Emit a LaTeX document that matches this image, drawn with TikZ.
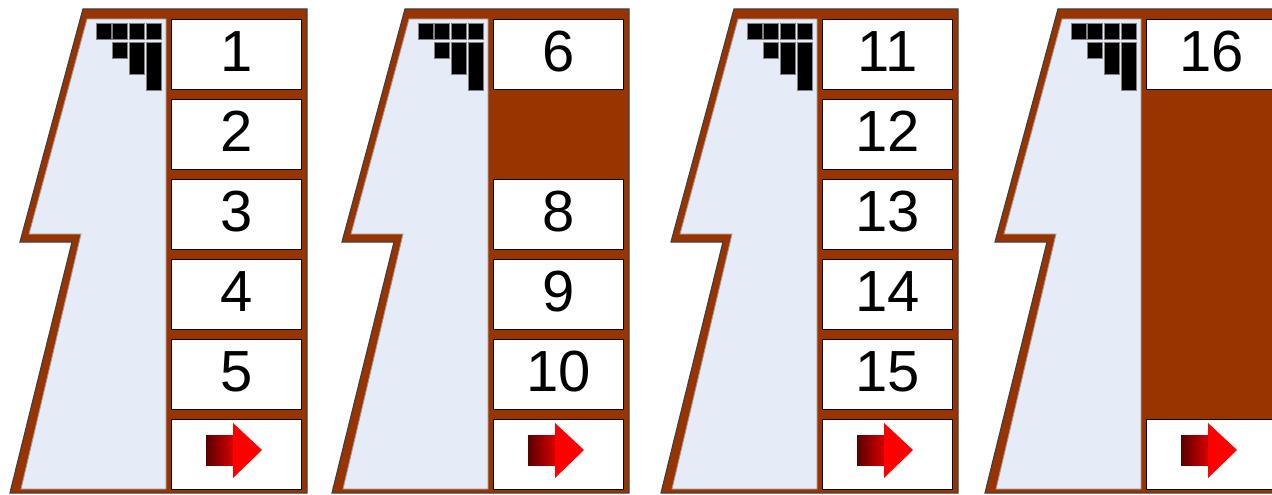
\documentclass[tikz,border=0pt]{standalone}
\usepackage{fontspec}
\setmainfont{Liberation Sans}
\definecolor{brn}{HTML}{993300}
\definecolor{pale}{HTML}{E6ECF7}
\definecolor{darkshaft}{HTML}{5A0000}
\definecolor{redshaft}{HTML}{D80000}
\tikzset{
  frame/.style={fill=brn, draw=black!75, line width=1.2pt, line join=miter},
  innerzone/.style={fill=pale, draw=black!40, line width=0.9pt},
  stair/.style={fill=black, draw=black!50, line width=0.6pt},
  numbox/.style={draw=black, line width=1pt, fill=white, minimum width=130pt,
    minimum height=70pt, inner sep=0pt, anchor=north west,
    text height=42pt, text depth=8pt, font=\fontsize{58}{58}\selectfont},
  headtip/.style={fill=red, draw=none},
}
\newcommand{\panelbody}{%
  \filldraw[frame] (83,9) -- (307,9) -- (307,493) -- (10,493) -- (72,242) -- (20,242) -- cycle;
  \filldraw[innerzone] (87,19) -- (166,19) -- (166,489) -- (21,489) -- (81,234) -- (29,234) -- cycle;
  \filldraw[stair] (96,23.5) rectangle (111,39);
  \filldraw[stair] (112.6,23.5) rectangle (127.6,39);
  \filldraw[stair] (129.2,23.5) rectangle (144.2,39);
  \filldraw[stair] (145.8,23.5) rectangle (160.8,39);
  \filldraw[stair] (112.6,42.5) rectangle (127.6,58);
  \filldraw[stair] (129.2,42.5) rectangle (144.2,74);
  \filldraw[stair] (145.8,42.5) rectangle (160.8,90);
}
\newcommand{\arrowin}[1]{%
  \shade[left color=darkshaft, right color=redshaft]
    ([xshift=35pt,yshift=-16pt]#1.north west) rectangle ([xshift=62pt,yshift=-46pt]#1.north west);
  \fill[headtip] ([xshift=62pt,yshift=-4pt]#1.north west) -- ([xshift=91pt,yshift=-31pt]#1.north west)
    -- ([xshift=62pt,yshift=-59pt]#1.north west) -- cycle;
}
\begin{document}
\begin{tikzpicture}[x=1pt,y=-1pt]
\useasboundingbox (0,0) rectangle (1272,495);
\clip (0,0) rectangle (1272,495);
% panel 1
\begin{scope}[xshift=0pt]
  \panelbody
  \node[numbox] (b1) at (171,19) {1};
  \node[numbox] (b2) at (171,99) {2};
  \node[numbox] (b3) at (171,179) {3};
  \node[numbox] (b4) at (171,259) {4};
  \node[numbox] (b5) at (171,339) {5};
  \node[numbox] (a1) at (171,419) {};
  \arrowin{a1}
\end{scope}
% panel 2
\begin{scope}[xshift=322pt]
  \panelbody
  \node[numbox] (b6) at (171,19) {6};
  \node[numbox] (b8) at (171,179) {8};
  \node[numbox] (b9) at (171,259) {9};
  \node[numbox] (b10) at (171,339) {10};
  \node[numbox] (a2) at (171,419) {};
  \arrowin{a2}
\end{scope}
% panel 3
\begin{scope}[xshift=651pt]
  \panelbody
  \node[numbox] (b11) at (171,19) {11};
  \node[numbox] (b12) at (171,99) {12};
  \node[numbox] (b13) at (171,179) {13};
  \node[numbox] (b14) at (171,259) {14};
  \node[numbox] (b15) at (171,339) {15};
  \node[numbox] (a3) at (171,419) {};
  \arrowin{a3}
\end{scope}
% panel 4
\begin{scope}[xshift=975pt]
  \panelbody
  \node[numbox] (b16) at (171,19) {16};
  \node[numbox] (a4) at (171,419) {};
  \arrowin{a4}
\end{scope}
\end{tikzpicture}
\end{document}
